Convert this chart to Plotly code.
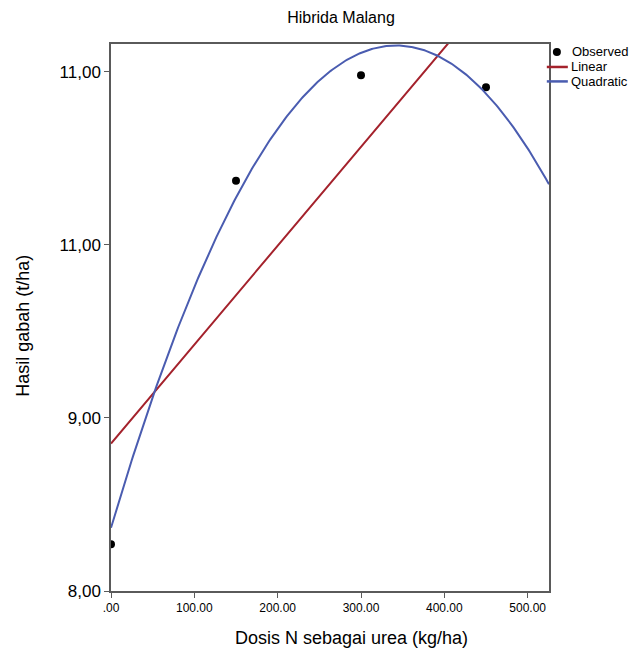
import plotly.graph_objects as go
import numpy as np

# Observed data (dose kg/ha, yield t/ha)
dose = [0, 150, 267, 300, 450]
yield_obs = [8.27, 10.37, 11.22, 10.98, 10.91]

# Fitted model coefficients
linear_coef = [8.852, 0.005713]               # a + b*x
quad_coef = [8.365, 0.01629, -2.381e-5]        # a + b*x + c*x^2

y_tickvals = [8, 9, 10, 11]
y_ticktext = ["8,00", "9,00", "11,00", "11,00"]
x_tickvals = [0, 100, 200, 300, 400, 500]
x_ticktext = [".00", "100.00", "200.00", "300.00", "400.00", "500.00"]

legend_names = ["Observed", "Linear", "Quadratic"]
title_text = "Hibrida Malang"
x_title = "Dosis N sebagai urea (kg/ha)"
y_title = "Hasil gabah (t/ha)"

x_range = [0, 525.6]
y_range = [8.0, 11.16]

RED = "#a4222c"
BLUE = "#4a5cb0"

xs = np.linspace(x_range[0], x_range[1], 300)
lin = linear_coef[0] + linear_coef[1] * xs
quad = quad_coef[0] + quad_coef[1] * xs + quad_coef[2] * xs ** 2

FONT = "Liberation Sans, Arial, sans-serif"

fig = go.Figure()
fig.add_trace(go.Scatter(x=dose, y=yield_obs, mode="markers", name=legend_names[0],
                         marker=dict(color="black", size=8)))
fig.add_trace(go.Scatter(x=xs, y=lin, mode="lines", name=legend_names[1],
                         line=dict(color=RED, width=2)))
fig.add_trace(go.Scatter(x=xs, y=quad, mode="lines", name=legend_names[2],
                         line=dict(color=BLUE, width=2)))

# Manual legend (SPSS-style, compact) in paper coordinates
leg_y = [0.9854, 0.958, 0.9316]
shapes = [
    dict(type="circle", xref="paper", yref="paper", xsizemode="pixel", ysizemode="pixel",
         xanchor=1.018, yanchor=leg_y[0], x0=-4, x1=4, y0=-4, y1=4,
         fillcolor="black", line=dict(color="black", width=0)),
    dict(type="line", xref="paper", yref="paper", x0=0.995, x1=1.043, y0=leg_y[1], y1=leg_y[1],
         line=dict(color=RED, width=2.5)),
    dict(type="line", xref="paper", yref="paper", x0=0.995, x1=1.043, y0=leg_y[2], y1=leg_y[2],
         line=dict(color=BLUE, width=2.5)),
]
annotations = [
    dict(text=legend_names[0], xref="paper", yref="paper", x=1.048, y=leg_y[0],
         xanchor="left", yanchor="middle", showarrow=False, font=dict(size=13, family=FONT)),
    dict(text=legend_names[1], xref="paper", yref="paper", x=1.045, y=leg_y[1],
         xanchor="left", yanchor="middle", showarrow=False, font=dict(size=13, family=FONT)),
    dict(text=legend_names[2], xref="paper", yref="paper", x=1.045, y=leg_y[2],
         xanchor="left", yanchor="middle", showarrow=False, font=dict(size=13, family=FONT)),
    # axis titles
    dict(text=x_title, xref="paper", yref="paper", x=0.550, y=-0.0858,
         xanchor="center", yanchor="middle", showarrow=False, font=dict(size=18, family=FONT)),
    dict(text=y_title, xref="paper", yref="paper", x=-0.2009, y=0.485, textangle=-90,
         xanchor="center", yanchor="middle", showarrow=False, font=dict(size=18, family=FONT)),
]

fig.update_layout(
    width=630, height=644,
    margin=dict(l=103, r=89, t=36, b=61),
    paper_bgcolor="white", plot_bgcolor="white",
    font=dict(family=FONT, color="black"),
    title=dict(text=title_text, x=0.5286, xanchor="center", y=0.986, yanchor="middle",
               font=dict(size=16, family=FONT, color="black")),
    showlegend=False,
    shapes=shapes,
    annotations=annotations,
    xaxis=dict(range=x_range, tickvals=x_tickvals, ticktext=x_ticktext,
               showgrid=False, zeroline=False, showline=True, linecolor="#5a5a5a",
               linewidth=1.5, mirror=True, ticks="outside", ticklen=5, tickcolor="#5a5a5a",
               tickfont=dict(size=12, family=FONT)),
    yaxis=dict(range=y_range, tickvals=y_tickvals, ticktext=y_ticktext,
               showgrid=False, zeroline=False, showline=True, linecolor="#5a5a5a",
               linewidth=1.5, mirror=True, ticks="outside", ticklen=5, tickcolor="#5a5a5a",
               tickfont=dict(size=17, family=FONT)),
)

fig.write_html("out.html")
